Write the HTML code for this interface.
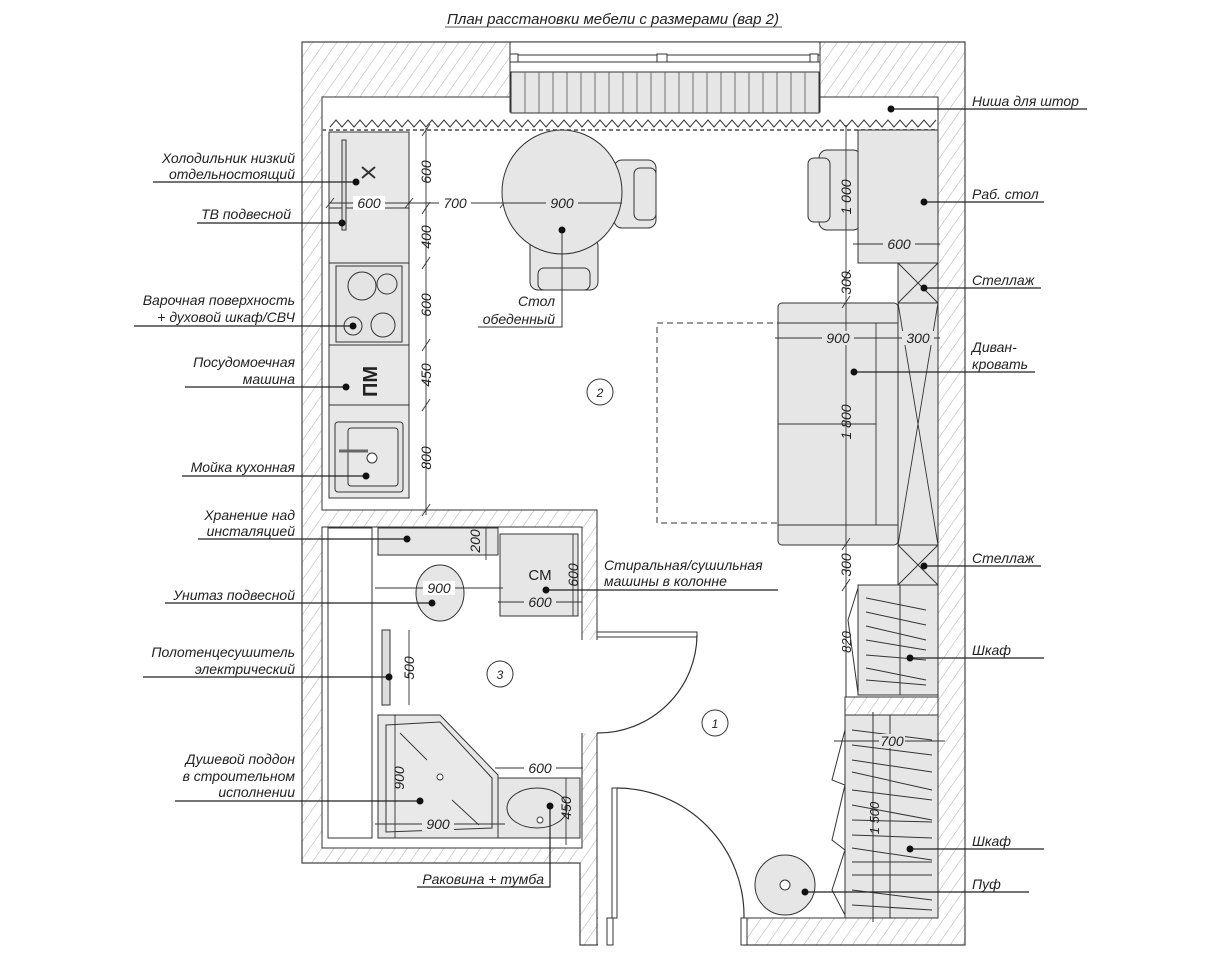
<!DOCTYPE html>
<html><head><meta charset="utf-8"><style>
html,body{margin:0;padding:0;background:#fff;}
svg{display:block;}
text{font-family:"Liberation Sans","DejaVu Sans",sans-serif;font-style:italic;fill:#222;}
</style></head><body>
<svg width="1208" height="956" viewBox="0 0 1208 956" xmlns="http://www.w3.org/2000/svg">
<defs>
<pattern id="h" patternUnits="userSpaceOnUse" width="10" height="10" patternTransform="rotate(35)">
<rect width="10" height="10" fill="#fff"/><line x1="0" y1="0" x2="0" y2="10" stroke="#999" stroke-width="0.8"/>
</pattern>
</defs>
<text x="613" y="24" font-size="15" text-anchor="middle">План расстановки мебели с размерами (вар 2)</text>
<line x1="445" y1="27" x2="782" y2="27" stroke="#222" stroke-width="0.8"/>

<!-- walls -->
<path d="M302,42 H965 V945 H580 V863 H302 Z" fill="url(#h)" stroke="#444" stroke-width="1.2"/>
<path d="M322,97 H938 V918 H597 V510 H322 Z" fill="#fff" stroke="#333" stroke-width="1"/>
<rect x="322" y="527" width="260" height="321" fill="#fff" stroke="#333" stroke-width="1"/>
<rect x="581" y="640" width="17" height="93" fill="#fff"/>
<rect x="598" y="917" width="146" height="29" fill="#fff"/>
<rect x="598" y="945" width="146" height="11" fill="#fff"/>
<line x1="597" y1="918" x2="597" y2="945" stroke="#333"/>
<!-- window -->
<rect x="510" y="42" width="310" height="70" fill="#fff" stroke="#333"/>
<line x1="510" y1="55" x2="820" y2="55" stroke="#333"/>
<line x1="510" y1="62" x2="820" y2="62" stroke="#333"/>
<rect x="510" y="54" width="8" height="8" fill="#fff" stroke="#333"/>
<rect x="657" y="54" width="10" height="8" fill="#fff" stroke="#333"/>
<rect x="810" y="54" width="8" height="8" fill="#fff" stroke="#333"/>
<rect x="511" y="72" width="308" height="41" fill="#e6e6e6" stroke="#333"/>
<g stroke="#555" stroke-width="0.8">
<line x1="525" y1="72" x2="525" y2="113"/><line x1="539" y1="72" x2="539" y2="113"/><line x1="553" y1="72" x2="553" y2="113"/><line x1="567" y1="72" x2="567" y2="113"/><line x1="581" y1="72" x2="581" y2="113"/><line x1="595" y1="72" x2="595" y2="113"/><line x1="609" y1="72" x2="609" y2="113"/><line x1="623" y1="72" x2="623" y2="113"/><line x1="637" y1="72" x2="637" y2="113"/><line x1="651" y1="72" x2="651" y2="113"/><line x1="665" y1="72" x2="665" y2="113"/><line x1="679" y1="72" x2="679" y2="113"/><line x1="693" y1="72" x2="693" y2="113"/><line x1="707" y1="72" x2="707" y2="113"/><line x1="721" y1="72" x2="721" y2="113"/><line x1="735" y1="72" x2="735" y2="113"/><line x1="749" y1="72" x2="749" y2="113"/><line x1="763" y1="72" x2="763" y2="113"/><line x1="777" y1="72" x2="777" y2="113"/><line x1="791" y1="72" x2="791" y2="113"/><line x1="805" y1="72" x2="805" y2="113"/>
</g>
<polyline fill="none" stroke="#333" stroke-width="1" points="330,127 336,120 342,127 348,120 354,127 360,120 366,127 372,120 378,127 384,120 390,127 396,120 402,127 408,120 414,127 420,120 426,127 432,120 438,127 444,120 450,127 456,120 462,127 468,120 474,127 480,120 486,127 492,120 498,127 504,120 510,127 516,120 522,127 528,120 534,127 540,120 546,127 552,120 558,127 564,120 570,127 576,120 582,127 588,120 594,127 600,120 606,127 612,120 618,127 624,120 630,127 636,120 642,127 648,120 654,127 660,120 666,127 672,120 678,127 684,120 690,127 696,120 702,127 708,120 714,127 720,120 726,127 732,120 738,127 744,120 750,127 756,120 762,127 768,120 774,127 780,120 786,127 792,120 798,127 804,120 810,127 816,120 822,127 828,120 834,127 840,120 846,127 852,120 858,127 864,120 870,127 876,120 882,127 888,120 894,127 900,120 906,127 912,120 918,127 924,120 930,127 936,120"/>
<line x1="322" y1="130" x2="938" y2="130" stroke="#777" stroke-width="2" stroke-dasharray="4,3"/>

<!-- kitchen counter -->
<g stroke="#333" stroke-width="1" fill="#e8e8e8">
<rect x="329" y="132" width="80" height="76"/>
<rect x="329" y="208" width="80" height="55"/>
<rect x="329" y="263" width="80" height="82"/>
<rect x="336" y="266" width="66" height="76" fill="#e4e4e4"/>
<rect x="329" y="345" width="80" height="60"/>
<rect x="329" y="405" width="80" height="93"/>
<rect x="335" y="422" width="68" height="70" rx="3" fill="#e4e4e4"/>
<rect x="348" y="428" width="50" height="58" rx="3" fill="#e8e8e8"/>
</g>
<g fill="none" stroke="#333" stroke-width="1">
<circle cx="362" cy="286" r="14"/><circle cx="387" cy="284" r="10"/>
<circle cx="353" cy="326" r="9"/><circle cx="383" cy="325" r="12"/>
<path d="M362,167 L375,178 M375,167 L362,178" stroke-width="2"/>
<path d="M342,140 L346,140 L346,230 L342,230 Z" fill="#ddd"/>
<line x1="339" y1="451" x2="368" y2="451" stroke-width="3" stroke="#666"/>
<circle cx="372" cy="458" r="5" fill="#fff"/>
</g>
<text x="0" y="0" font-size="20" transform="translate(377,397) rotate(-90)" style="font-style:normal;font-weight:bold">ПМ</text>

<g stroke="#333" stroke-width="0.9">
<line x1="426" y1="128" x2="426" y2="515"/>
<line x1="422" y1="136" x2="430" y2="124"/><line x1="422" y1="214" x2="430" y2="202"/><line x1="422" y1="269" x2="430" y2="257"/><line x1="422" y1="351" x2="430" y2="339"/><line x1="422" y1="411" x2="430" y2="399"/><line x1="422" y1="516" x2="430" y2="504"/>
<line x1="330" y1="203" x2="630" y2="203"/>
<line x1="326" y1="208" x2="334" y2="198"/><line x1="405" y1="208" x2="413" y2="198"/><line x1="500" y1="208" x2="508" y2="198"/><line x1="617" y1="208" x2="625" y2="198"/>
</g>
<g font-size="14" text-anchor="middle">
<rect x="353" y="196" width="32" height="14" fill="#fff"/><text x="369" y="208">600</text>
<rect x="439" y="196" width="32" height="14" fill="#fff"/><text x="455" y="208">700</text>
<text transform="translate(431,172) rotate(-90)">600</text>
<text transform="translate(431,237) rotate(-90)">400</text>
<text transform="translate(431,305) rotate(-90)">600</text>
<text transform="translate(431,375) rotate(-90)">450</text>
<text transform="translate(431,458) rotate(-90)">800</text>
</g>

<!-- dining table -->
<g stroke="#333" stroke-width="1" fill="#e6e6e6">
<rect x="614" y="160" width="42" height="68" rx="8"/><rect x="634" y="168" width="22" height="52" rx="6"/>
<rect x="530" y="238" width="68" height="52" rx="8"/><rect x="538" y="268" width="52" height="22" rx="6"/>
<ellipse cx="562" cy="192" rx="60" ry="62"/>
</g>
<line x1="502" y1="203" x2="622" y2="203" stroke="#333"/>
<rect x="546" y="196" width="32" height="14" fill="#e6e6e6"/>
<text x="562" y="208" font-size="14" text-anchor="middle">900</text>
<polyline points="562,230 562,327 478,327" fill="none" stroke="#333"/>
<circle cx="562" cy="230" r="3.5" fill="#111"/>
<text x="555" y="306" font-size="14" text-anchor="end">Стол</text>
<text x="555" y="324" font-size="14" text-anchor="end">обеденный</text>

<g fill="#fff" stroke="#333"><circle cx="600" cy="392" r="13"/><circle cx="500" cy="674" r="13"/><circle cx="715" cy="723" r="13"/></g>
<g font-size="12" text-anchor="middle"><text x="600" y="397">2</text><text x="500" y="679">3</text><text x="715" y="728">1</text></g>

<rect x="657" y="323" width="125" height="200" fill="none" stroke="#333" stroke-dasharray="6,4"/>

<g stroke="#333" fill="#e6e6e6">
<rect x="819" y="150" width="42" height="80" rx="8"/><rect x="808" y="158" width="22" height="64" rx="6"/>
<rect x="858" y="130" width="80" height="133"/>
<rect x="898" y="263" width="40" height="40"/>
<rect x="778" y="303" width="120" height="242" rx="4"/>
<rect x="898" y="303" width="40" height="242"/>
<rect x="898" y="545" width="40" height="40"/>
</g>
<g stroke="#333" fill="none" stroke-width="0.9">
<path d="M898,263 L938,303 M938,263 L898,303 M898,303 L938,545 M938,303 L898,545 M898,545 L938,585 M938,545 L898,585"/>
<line x1="778" y1="323" x2="898" y2="323"/>
<line x1="876" y1="323" x2="876" y2="525"/>
<line x1="778" y1="424" x2="876" y2="424"/>
<line x1="778" y1="525" x2="898" y2="525"/>
<line x1="846" y1="125" x2="846" y2="590"/>
<line x1="842" y1="282" x2="850" y2="270"/><line x1="842" y1="308" x2="850" y2="296"/><line x1="842" y1="550" x2="850" y2="538"/><line x1="842" y1="591" x2="850" y2="579"/>
<line x1="853" y1="244" x2="940" y2="244"/>
<line x1="775" y1="338" x2="940" y2="338"/>
</g>
<g font-size="14" text-anchor="middle">
<rect x="883" y="237" width="32" height="14" fill="#e6e6e6"/><text x="899" y="249">600</text>
<rect x="822" y="331" width="32" height="14" fill="#e6e6e6"/><text x="838" y="343">900</text>
<rect x="902" y="331" width="32" height="14" fill="#e6e6e6"/><text x="918" y="343">300</text>
<text transform="translate(851,197) rotate(-90)">1 000</text>
<text transform="translate(851,283) rotate(-90)">300</text>
<text transform="translate(851,422) rotate(-90)">1 800</text>
<text transform="translate(851,565) rotate(-90)">300</text>
</g>

<rect x="845" y="697" width="93" height="18" fill="url(#h)" stroke="#333"/>
<g stroke="#333" fill="#e6e6e6">
<rect x="858" y="585" width="80" height="110"/>
<rect x="845" y="715" width="93" height="203"/>
</g>
<g stroke="#333" fill="none" stroke-width="1">
<line x1="900" y1="585" x2="900" y2="695"/>
<polyline points="858,588 848,620 858,693"/>
<line x1="873" y1="715" x2="873" y2="918"/><line x1="890" y1="715" x2="890" y2="918"/>
<polyline points="845,730 832,780 845,785 832,840 845,850 832,890 845,915"/>
<path d="M866,598 L926,610 M866,612 L926,625 M866,626 L926,640 M866,640 L926,650 M866,655 L926,660 M866,668 L926,680 M866,680 L926,685"/>
<path d="M852,730 L932,740 M852,745 L932,755 M852,760 L932,772 M852,772 L932,790 M852,790 L932,800 M852,805 L932,820 M852,820 L932,822 M852,835 L932,838 M852,848 L932,860 M852,862 L932,862 M852,875 L932,875 M852,890 L932,900 M852,905 L932,910"/>
<line x1="834" y1="741" x2="945" y2="741"/>
<line x1="846" y1="590" x2="846" y2="697"/>
<line x1="873" y1="712" x2="873" y2="922"/>
</g>
<rect x="879" y="734" width="26" height="14" fill="#e6e6e6"/>
<text x="892" y="746" font-size="14" text-anchor="middle">700</text>
<text transform="translate(851,642) rotate(-90)" font-size="13" text-anchor="middle">820</text>
<text transform="translate(879,818) rotate(-90)" font-size="13" text-anchor="middle">1 500</text>
<circle cx="785" cy="885" r="30" fill="#e6e6e6" stroke="#333"/>
<circle cx="785" cy="885" r="5" fill="#fff" stroke="#333"/>

<rect x="597" y="632" width="100" height="5" fill="#fff" stroke="#333"/>
<path d="M697,635 A99,99 0 0 1 597,733" fill="none" stroke="#333" stroke-width="1.2"/>
<rect x="612" y="788" width="5" height="130" fill="#fff" stroke="#333"/>
<path d="M617,788 A128,128 0 0 1 744,918" fill="none" stroke="#333" stroke-width="1.2"/>
<rect x="607" y="918" width="6" height="27" fill="#fff" stroke="#333"/>
<rect x="741" y="918" width="6" height="27" fill="#fff" stroke="#333"/>

<rect x="328" y="528" width="44" height="310" fill="#fff" stroke="#333"/>
<g stroke="#333" fill="#e6e6e6">
<rect x="378" y="528" width="120" height="27"/>
<rect x="500" y="534" width="78" height="82"/>
<rect x="498" y="778" width="82" height="60"/>
<path d="M378,715 L440,715 L498,775 L498,838 L378,838 Z"/>
<path d="M386,725 L440,722 L492,778 L492,828 L386,832 Z" fill="#e9e9e9"/>
<ellipse cx="440" cy="593" rx="24" ry="28"/>
<ellipse cx="537" cy="808" rx="30" ry="20"/>
<rect x="382" y="630" width="8" height="75" fill="#ddd"/>
</g>
<g stroke="#333" fill="none" stroke-width="0.9">
<line x1="400" y1="733" x2="427" y2="760"/><line x1="452" y1="800" x2="479" y2="825"/>
<line x1="375" y1="588" x2="503" y2="588"/>
<line x1="375" y1="824" x2="505" y2="824"/>
<line x1="395" y1="715" x2="395" y2="838"/>
<line x1="486" y1="528" x2="486" y2="560"/>
<line x1="573" y1="534" x2="573" y2="616"/>
<line x1="498" y1="602" x2="582" y2="602"/>
<line x1="495" y1="768" x2="583" y2="768"/>
<line x1="566" y1="778" x2="566" y2="845"/>
<line x1="409" y1="630" x2="409" y2="705"/>
<circle cx="440" cy="777" r="3" fill="#fff"/>
<circle cx="540" cy="820" r="3" fill="#fff"/>
</g>
<g font-size="14" text-anchor="middle">
<rect x="423" y="581" width="32" height="14" fill="#fff"/><text x="439" y="593">900</text>
<rect x="422" y="817" width="32" height="14" fill="#e9e9e9"/><text x="438" y="829">900</text>
<rect x="524" y="761" width="32" height="14" fill="#fff"/><text x="540" y="773">600</text>
<rect x="524" y="595" width="32" height="14" fill="#e6e6e6"/><text x="540" y="607">600</text>
<text x="540" y="580" style="font-style:normal" font-size="15">СМ</text>
<text transform="translate(480,541) rotate(-90)">200</text>
<text transform="translate(578,575) rotate(-90)">600</text>
<text transform="translate(571,808) rotate(-90)">450</text>
<text transform="translate(404,778) rotate(-90)">900</text>
<text transform="translate(414,668) rotate(-90)">500</text>
</g>

<g stroke="#222" stroke-width="1.2" fill="none">
<line x1="153" y1="182" x2="356" y2="182"/>
<line x1="197" y1="223" x2="342" y2="223"/>
<line x1="134" y1="326" x2="353" y2="326"/>
<line x1="185" y1="387" x2="346" y2="387"/>
<line x1="182" y1="476" x2="366" y2="476"/>
<line x1="198" y1="539" x2="407" y2="539"/>
<line x1="165" y1="603" x2="432" y2="603"/>
<line x1="143" y1="677" x2="389" y2="677"/>
<line x1="175" y1="801" x2="420" y2="801"/>
<polyline points="417,887 550,887 550,806"/>
<line x1="546" y1="590" x2="778" y2="590"/>
</g>
<g fill="#111">
<circle cx="356" cy="182" r="3.5"/><circle cx="342" cy="223" r="3.5"/><circle cx="353" cy="326" r="3.5"/><circle cx="346" cy="387" r="3.5"/><circle cx="366" cy="476" r="3.5"/><circle cx="407" cy="539" r="3.5"/><circle cx="432" cy="603" r="3.5"/><circle cx="389" cy="677" r="3.5"/><circle cx="420" cy="801" r="3.5"/><circle cx="550" cy="806" r="3.5"/><circle cx="546" cy="590" r="3.5"/>
</g>
<g font-size="14" text-anchor="end">
<text x="295" y="163">Холодильник низкий</text><text x="295" y="179">отдельностоящий</text>
<text x="291" y="219">ТВ подвесной</text>
<text x="295" y="305">Варочная поверхность</text><text x="295" y="322">+ духовой шкаф/СВЧ</text>
<text x="295" y="367">Посудомоечная</text><text x="295" y="384">машина</text>
<text x="295" y="472">Мойка кухонная</text>
<text x="295" y="520">Хранение над</text><text x="295" y="536">инсталяцией</text>
<text x="295" y="600">Унитаз подвесной</text>
<text x="295" y="657">Полотенцесушитель</text><text x="295" y="674">электрический</text>
<text x="295" y="764">Душевой поддон</text><text x="295" y="781">в строительном</text><text x="295" y="797">исполнении</text>
<text x="544" y="884">Раковина + тумба</text>
</g>
<text x="604" y="570" font-size="14">Стиральная/сушильная</text>
<text x="604" y="586" font-size="14">машины в колонне</text>

<g stroke="#222" stroke-width="1.2">
<line x1="891" y1="109" x2="1087" y2="109"/>
<line x1="924" y1="202" x2="1044" y2="202"/>
<line x1="924" y1="288" x2="1041" y2="288"/>
<line x1="854" y1="372" x2="1035" y2="372"/>
<line x1="924" y1="566" x2="1041" y2="566"/>
<line x1="910" y1="658" x2="1044" y2="658"/>
<line x1="910" y1="849" x2="1044" y2="849"/>
<line x1="805" y1="892" x2="1029" y2="892"/>
</g>
<g fill="#111">
<circle cx="891" cy="109" r="3.5"/><circle cx="924" cy="202" r="3.5"/><circle cx="924" cy="288" r="3.5"/><circle cx="854" cy="372" r="3.5"/><circle cx="924" cy="566" r="3.5"/><circle cx="910" cy="658" r="3.5"/><circle cx="910" cy="849" r="3.5"/><circle cx="805" cy="892" r="3.5"/>
</g>
<g font-size="14">
<text x="972" y="106">Ниша для штор</text>
<text x="972" y="199">Раб. стол</text>
<text x="972" y="285">Стеллаж</text>
<text x="972" y="352">Диван-</text><text x="972" y="369">кровать</text>
<text x="972" y="563">Стеллаж</text>
<text x="972" y="655">Шкаф</text>
<text x="972" y="846">Шкаф</text>
<text x="972" y="889">Пуф</text>
</g>
</svg>
</body></html>
